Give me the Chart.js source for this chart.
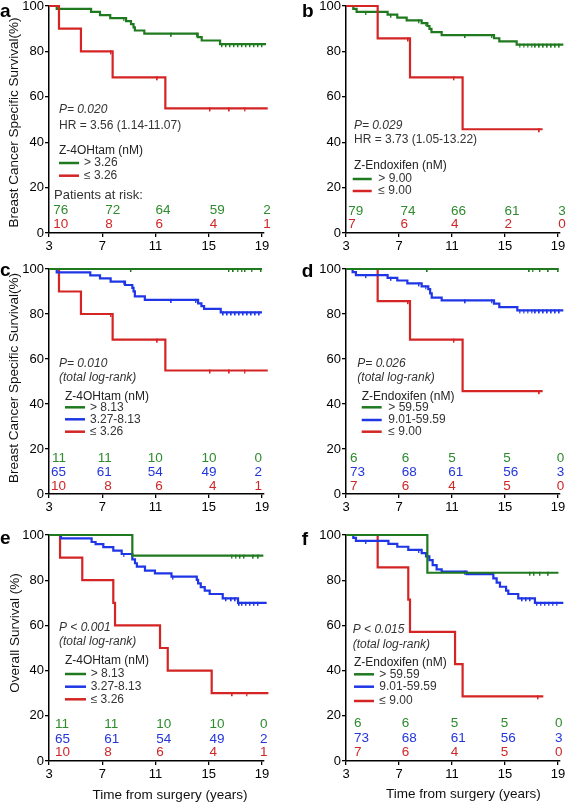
<!DOCTYPE html>
<html><head><meta charset="utf-8">
<script src="https://cdn.jsdelivr.net/npm/chart.js@4.4.0/dist/chart.umd.min.js"></script>
<style>
html,body{margin:0;padding:0;background:#fff;width:567px;height:802px;overflow:hidden;position:relative;}
canvas{position:absolute;}
</style></head><body>
<canvas id="pa" width="283" height="258" style="left:0;top:0"></canvas>
<canvas id="pb" width="284" height="258" style="left:283px;top:0"></canvas>
<canvas id="pc" width="283" height="265" style="left:0;top:255px"></canvas>
<canvas id="pd" width="284" height="265" style="left:283px;top:255px"></canvas>
<canvas id="pe" width="283" height="282" style="left:0;top:520px"></canvas>
<canvas id="pf" width="284" height="282" style="left:283px;top:520px"></canvas>
<script>
// ---------- DATA ----------
const xTicks = [3, 7, 11, 15, 19];
const yTicks = [0, 20, 40, 60, 80, 100];

// Panel a: Z-4OHtam > 3.26 (BCSS)
const aHighT = [3, 3.58, 6.16, 6.83, 7.6, 8.79, 9.16, 9.35, 9.45, 10.16, 14.17, 14.47, 15.85, 19.3];
const aHighS = [100, 98.7, 97.4, 96.0, 94.7, 93.3, 92.0, 90.6, 89.2, 87.8, 86.3, 84.8, 83.2, 83.2];
const aHighC = [8.6, 12.2, 14.1, 16.0, 16.3, 16.6, 16.9, 17.2, 17.5, 17.8, 18.1, 18.4, 18.7, 19.0];
// Z-4OHtam <= 3.26 (BCSS, panels a and c)
const tamLowT = [3, 3.75, 5.4, 7.78, 11.74, 19.43];
const tamLowS = [100, 90, 80, 68.6, 54.9, 54.9];
const tamLowC = [7.65, 11.15, 15.1, 16.55, 17.7];

// Panel b: Z-Endoxifen > 9.00 (BCSS)
const bHighT = [3, 3.55, 3.8, 6.14, 6.87, 7.58, 8.71, 9.14, 9.3, 9.45, 10.22, 14.17, 14.57, 15.88, 19.4];
const bHighS = [100, 98.7, 97.4, 96.2, 94.9, 93.7, 92.5, 91.2, 89.9, 88.5, 87.2, 85.8, 84.4, 83.0, 83.0];
const bHighC = [4.5, 6.4, 8.5, 9.0, 12.0, 14.0, 16.1, 16.4, 16.7, 17.0, 17.3, 17.6, 17.9, 18.2, 18.5, 18.8, 19.1];
// Z-Endoxifen <= 9.00 (BCSS, panels b and d)
const endLowT = [3, 5.39, 7.83, 11.8, 17.84];
const endLowS = [100, 85.7, 68.6, 45.7, 45.7];
const endLowC = [7.7, 11.15, 17.6];

// Panel c: Z-4OHtam three groups (BCSS)
const cHighT = [3, 19.0];
const cHighS = [100, 100];
const cHighC = [9.16, 16.52, 16.85, 17.17, 17.48, 17.73, 18.23, 18.93];
const cMidT = [3, 3.58, 6.1, 6.83, 7.63, 8.71, 9.26, 9.35, 9.45, 10.2, 14.2, 14.45, 14.65, 15.9, 19.0];
const cMidS = [100, 98.5, 97.2, 95.8, 94.4, 92.9, 91.6, 90.1, 87.8, 86.3, 84.7, 83.5, 82.3, 80.7, 80.7];
const cMidC = [8.6, 12.2, 14.05, 16.1, 16.4, 16.7, 17.0, 17.3, 17.6, 17.9, 18.2, 18.5, 18.8];

// Panel d: Z-Endoxifen three groups (BCSS)
const dHighT = [3, 19.03];
const dHighS = [100, 100];
const dHighC = [9.14, 16.84, 17.09, 17.64, 18.27, 19.03];
const dMidT = [3, 3.5, 3.75, 6.14, 6.87, 7.63, 8.71, 9.21, 9.35, 9.47, 10.22, 14.17, 14.57, 15.93, 19.4];
const dMidS = [100, 98.6, 97.3, 96.1, 94.9, 93.6, 92.3, 91.1, 89.2, 87.3, 86.1, 84.6, 83.1, 81.6, 81.6];
const dMidC = [4.5, 6.4, 8.5, 9.0, 12.0, 14.0, 16.1, 16.4, 16.7, 17.0, 17.3, 17.6, 17.9, 18.2, 18.5, 18.8, 19.1];

// Panel e: Z-4OHtam three groups (OS)
const eHighT = [3, 9.26, 19.1];
const eHighS = [100, 90.9, 90.9];
const eHighC = [16.73, 17.03, 17.35, 17.65, 18.35, 18.73];
const eMidT = [3, 3.9, 6.2, 6.5, 7.08, 7.83, 8.46, 9.26, 9.46, 9.6, 10.21, 10.96, 12.2, 14.1, 14.2, 14.4, 14.7, 15.07, 16.05, 17.2, 19.35];
const eMidS = [100, 98.5, 96.9, 96.0, 94.6, 93.1, 91.6, 89.2, 87.5, 86.0, 84.2, 83.0, 81.6, 80.1, 78.6, 76.9, 75.4, 73.9, 72.0, 70.0, 70.0];
const eMidC = [8.6, 12.3, 16.3, 16.7, 17.0, 17.3, 17.5, 17.8, 18.1, 18.4, 18.7];
const eLowT = [3, 3.83, 5.5, 7.83, 7.96, 11.34, 11.92, 15.22, 19.48];
const eLowS = [100, 90, 80, 70, 60, 50, 40, 30, 30];
const eLowC = [16.77, 17.85];

// Panel f: Z-Endoxifen three groups (OS)
const fHighT = [3, 9.14, 19.03];
const fHighS = [100, 83.3, 83.3];
const fHighC = [16.89, 17.19, 17.64, 18.27];
const fMidT = [3, 3.55, 3.75, 6.2, 6.87, 7.7, 8.71, 9.04, 9.29, 9.54, 9.84, 10.22, 12.1, 14.12, 14.37, 14.62, 15.08, 15.25, 16.0, 17.26, 19.4];
const fMidS = [100, 98.7, 97.4, 96.1, 94.8, 93.4, 92.0, 90.5, 88.9, 86.7, 84.8, 83.8, 82.7, 80.8, 78.9, 77.1, 75.4, 73.9, 72.0, 70.0, 70.0];
const fMidC = [4.5, 8.5, 12.0, 16.3, 16.6, 16.9, 17.4, 17.7, 18.0, 18.3, 18.6, 18.9];
const fLowT = [3, 5.39, 7.7, 7.83, 11.23, 11.8, 17.89];
const fLowS = [100, 85.7, 71.4, 57.1, 42.9, 28.6, 28.6];
const fLowC = [17.5];

// Patients at risk
const aRiskHigh = [76, 72, 64, 59, 2];
const aRiskLow = [10, 8, 6, 4, 1];
const bRiskHigh = [79, 74, 66, 61, 3];
const bRiskLow = [7, 6, 4, 2, 0];
const tamRiskHigh = [11, 11, 10, 10, 0];
const tamRiskMid = [65, 61, 54, 49, 2];
const tamRiskLow = [10, 8, 6, 4, 1];
const endRiskHigh = [6, 6, 5, 5, 0];
const endRiskMid = [73, 68, 61, 56, 3];
const endRiskLow = [7, 6, 4, 5, 0];

// ---------- STYLE ----------
const FONT = "'Liberation Sans', Arial, sans-serif";
const GREEN = '#1f7a1f', RED = '#d42424', BLUE = '#1f36e6';
const TGREEN = '#2e8b2e', TRED = '#cf2626', TBLUE = '#2236da';
const ANN = '#333333';

function stepData(T, S) { return T.map((t, i) => ({x: t, y: S[i]})); }
function survAt(T, S, t) { let v = S[0]; for (let i = 0; i < T.length; i++) { if (T[i] <= t) v = S[i]; } return v; }

// censor tick image: short vertical tick hanging below the curve
const tickCache = {};
function censorMark(color) {
  if (tickCache[color]) return tickCache[color];
  const c = document.createElement('canvas');
  c.width = 2; c.height = 8;
  const g = c.getContext('2d');
  g.fillStyle = color;
  g.fillRect(0, 3, 1.4, 4);
  tickCache[color] = c;
  return c;
}

function makePanel(p) {
  const ds = [];
  p.curves.forEach(c => {
    ds.push({type: 'line', data: stepData(c.T, c.S), borderColor: c.color, borderWidth: 2.2,
      stepped: true, pointRadius: 0, fill: false, clip: false, order: c.order});
    ds.push({type: 'scatter', data: c.C.map(t => ({x: t, y: survAt(c.T, c.S, t)})),
      pointStyle: censorMark(c.color), pointRadius: 4, radius: 4,
      showLine: false, clip: false, order: c.order});
  });
  const A = p.area;
  const el = document.getElementById(p.id);
  const ox = parseFloat(el.style.left) || 0, oy = parseFloat(el.style.top) || 0;
  const cw = el.width, ch = el.height;
  const tickFont = {family: FONT, size: 13};
  const textPlugin = {
    id: 'txt',
    afterDraw(chart) {
      const ctx = chart.ctx;
      ctx.save();
      ctx.translate(-ox, -oy);
      ctx.fillStyle = '#000';
      ctx.font = 'bold 19px ' + FONT;
      ctx.textAlign = 'left'; ctx.textBaseline = 'alphabetic';
      ctx.fillText(p.letter[0], p.letter[1], p.letter[2]);
      ctx.textBaseline = 'middle';
      if (p.ytitle) {
        ctx.save();
        ctx.translate(p.ytitle[1], p.ytitle[2]);
        ctx.rotate(-Math.PI / 2);
        ctx.textAlign = 'center';
        ctx.font = '13.5px ' + FONT;
        ctx.fillStyle = '#111';
        ctx.fillText(p.ytitle[0], 0, 0);
        ctx.restore();
      }
      if (p.xtitle) {
        ctx.textAlign = 'center';
        ctx.font = '13.5px ' + FONT;
        ctx.fillStyle = '#111';
        ctx.fillText(p.xtitle[0], p.xtitle[1], p.xtitle[2]);
      }
      ctx.textAlign = 'left';
      p.notes.forEach(n => {
        ctx.font = (n[3] ? 'italic ' : '') + '12px ' + FONT;
        ctx.fillStyle = n[4] || ANN;
        ctx.fillText(n[0], n[1], n[2]);
      });
      const L = p.legend;
      L.items.forEach((it, i) => {
        ctx.strokeStyle = it[1]; ctx.lineWidth = 2.5;
        ctx.beginPath(); ctx.moveTo(L.x1, L.ys[i]); ctx.lineTo(L.x2, L.ys[i]); ctx.stroke();
        ctx.fillStyle = ANN; ctx.font = '12px ' + FONT;
        ctx.fillText(it[0], L.tx, L.ys[i]);
      });
      if (p.riskTitle) {
        ctx.font = '13px ' + FONT; ctx.fillStyle = ANN;
        ctx.fillText(p.riskTitle[0], p.riskTitle[1], p.riskTitle[2]);
      }
      const xs = chart.scales.x;
      ctx.font = '13.5px ' + FONT;
      ctx.textAlign = p.riskAlign;
      p.risk.forEach(r => {
        ctx.fillStyle = r.color;
        r.vals.forEach((v, i) => {
          const px = xs.getPixelForValue(xTicks[i]) + ox + p.riskDx[i];
          ctx.fillText(String(v), px, r.y);
        });
      });
      ctx.restore();
    }
  };
  new Chart(el, {
    type: 'line',
    data: {datasets: ds},
    options: {
      responsive: false, animation: false, devicePixelRatio: 1, events: [],
      layout: {padding: {left: 0, top: A.top - oy, right: (ox + cw) - A.right, bottom: 0}},
      plugins: {legend: {display: false}, tooltip: {enabled: false}},
      scales: {
        x: {
          type: 'linear', min: 3, max: 19.15,
          afterBuildTicks: s => { s.ticks = xTicks.map(v => ({value: v})); },
          ticks: {font: tickFont, color: '#000', padding: 2, maxRotation: 0, autoSkip: false},
          grid: {drawOnChartArea: false, tickLength: 4, color: '#000', lineWidth: 1.3},
          border: {color: '#000', width: 1.5},
          afterFit: s => { s.height = (oy + ch) - A.bottom; s.paddingLeft = 0; s.paddingRight = 0; }
        },
        y: {
          type: 'linear', min: 0, max: 100,
          afterBuildTicks: s => { s.ticks = yTicks.map(v => ({value: v})); },
          ticks: {font: tickFont, color: '#000', padding: 1},
          grid: {drawOnChartArea: false, tickLength: 4, color: '#000', lineWidth: 1.3},
          border: {color: '#000', width: 1.5},
          afterFit: s => { s.width = A.left - ox; s.paddingTop = 0; s.paddingBottom = 0; }
        }
      }
    },
    plugins: [textPlugin]
  });
}

const BCSS = 'Breast Cancer Specific Survival(%)';
const XT = 'Time from surgery (years)';

makePanel({
  id: 'pa', area: {left: 49, right: 264, top: 6, bottom: 233},
  curves: [{T: aHighT, S: aHighS, C: aHighC, color: GREEN, order: 2}, {T: tamLowT, S: tamLowS, C: tamLowC, color: RED, order: 1}],
  letter: ['a', 0, 16.5], ytitle: [BCSS, 14, 122.5],
  notes: [['P= 0.020', 59, 110, true], ['HR = 3.56 (1.14-11.07)', 59, 126], ['Z-4OHtam (nM)', 59, 151, false, '#222']],
  legend: {x1: 59, x2: 79, tx: 84, ys: [163, 175.7], items: [['> 3.26', GREEN], ['\u2264 3.26', RED]]},
  riskTitle: ['Patients at risk:', 54, 195],
  riskAlign: 'left', riskDx: [4.3, 3, 0, 1, 1.3],
  risk: [{vals: aRiskHigh, color: TGREEN, y: 210.7}, {vals: aRiskLow, color: TRED, y: 224}]
});
makePanel({
  id: 'pb', area: {left: 346, right: 560, top: 6, bottom: 233},
  curves: [{T: bHighT, S: bHighS, C: bHighC, color: GREEN, order: 2}, {T: endLowT, S: endLowS, C: endLowC, color: RED, order: 1}],
  letter: ['b', 302, 16.7],
  notes: [['P= 0.029', 354, 126, true], ['HR = 3.73 (1.05-13.22)', 354, 140], ['Z-Endoxifen (nM)', 354, 166, false, '#222']],
  legend: {x1: 352.7, x2: 371.7, tx: 378.3, ys: [179, 191], items: [['> 9.00', GREEN], ['\u2264 9.00', RED]]},
  riskAlign: 'left', riskDx: [2.3, 1.5, -1, -0.5, 0.3],
  risk: [{vals: bRiskHigh, color: TGREEN, y: 211}, {vals: bRiskLow, color: TRED, y: 224}]
});
makePanel({
  id: 'pc', area: {left: 49, right: 264, top: 269, bottom: 494},
  curves: [{T: cHighT, S: cHighS, C: cHighC, color: GREEN, order: 1}, {T: cMidT, S: cMidS, C: cMidC, color: BLUE, order: 2}, {T: tamLowT, S: tamLowS, C: tamLowC, color: RED, order: 3}],
  letter: ['c', 0, 276], ytitle: [BCSS, 14, 378],
  notes: [['P= 0.010', 59, 363.7, true], ['(total log-rank)', 59, 377.3, true], ['Z-4OHtam (nM)', 65, 396.7, false, '#222']],
  legend: {x1: 65, x2: 85, tx: 90, ys: [407.3, 419.3, 431.7], items: [['> 8.13', GREEN], ['3.27-8.13', BLUE], ['\u2264 3.26', RED]]},
  riskAlign: 'right', riskDx: [17, 9.5, 7.3, 7.7, 0],
  risk: [{vals: tamRiskHigh, color: TGREEN, y: 458.3}, {vals: tamRiskMid, color: TBLUE, y: 472.3}, {vals: tamRiskLow, color: TRED, y: 486}]
});
makePanel({
  id: 'pd', area: {left: 346, right: 560, top: 269, bottom: 494},
  curves: [{T: dHighT, S: dHighS, C: dHighC, color: GREEN, order: 1}, {T: dMidT, S: dMidS, C: dMidC, color: BLUE, order: 2}, {T: endLowT, S: endLowS, C: endLowC, color: RED, order: 3}],
  letter: ['d', 301.7, 276.7],
  notes: [['P= 0.026', 357.3, 363.3, true], ['(total log-rank)', 357.3, 377.3, true], ['Z-Endoxifen (nM)', 361.7, 396.7, false, '#222']],
  legend: {x1: 361.7, x2: 381.7, tx: 388.3, ys: [407.3, 420, 431.7], items: [['> 59.59', GREEN], ['9.01-59.59', BLUE], ['\u2264 9.00', RED]]},
  riskAlign: 'left', riskDx: [4, 2.7, -3.7, -1.7, -1.3],
  risk: [{vals: endRiskHigh, color: TGREEN, y: 458.3}, {vals: endRiskMid, color: TBLUE, y: 472.3}, {vals: endRiskLow, color: TRED, y: 486}]
});
makePanel({
  id: 'pe', area: {left: 49, right: 264, top: 535, bottom: 761},
  curves: [{T: eHighT, S: eHighS, C: eHighC, color: GREEN, order: 1}, {T: eMidT, S: eMidS, C: eMidC, color: BLUE, order: 2}, {T: eLowT, S: eLowS, C: eLowC, color: RED, order: 3}],
  letter: ['e', 0, 544], ytitle: ['Overall Survival (%)', 15, 633], xtitle: [XT, 170, 795],
  notes: [['P < 0.001', 59, 627.3, true], ['(total log-rank)', 59, 641.7, true], ['Z-4OHtam (nM)', 65, 661, false, '#222']],
  legend: {x1: 65, x2: 86, tx: 90.7, ys: [674, 686.7, 699.3], items: [['> 8.13', GREEN], ['3.27-8.13', BLUE], ['\u2264 3.26', RED]]},
  riskAlign: 'left', riskDx: [6, 2, 0.7, 0.7, -2],
  risk: [{vals: tamRiskHigh, color: TGREEN, y: 724.3}, {vals: tamRiskMid, color: TBLUE, y: 739}, {vals: tamRiskLow, color: TRED, y: 752.7}]
});
makePanel({
  id: 'pf', area: {left: 346, right: 560, top: 535, bottom: 761},
  curves: [{T: fHighT, S: fHighS, C: fHighC, color: GREEN, order: 1}, {T: fMidT, S: fMidS, C: fMidC, color: BLUE, order: 2}, {T: fLowT, S: fLowS, C: fLowC, color: RED, order: 3}],
  letter: ['f', 301.7, 545], xtitle: [XT, 463.3, 794.3],
  notes: [['P < 0.015', 352.7, 630, true], ['(total log-rank)', 352.7, 645, true], ['Z-Endoxifen (nM)', 354, 662.7, false, '#222']],
  legend: {x1: 354, x2: 374, tx: 379.3, ys: [674.3, 686.7, 701], items: [['> 59.59', GREEN], ['9.01-59.59', BLUE], ['\u2264 9.00', RED]]},
  riskAlign: 'left', riskDx: [8, 2.7, -1.3, -4.3, -3],
  risk: [{vals: endRiskHigh, color: TGREEN, y: 723.3}, {vals: endRiskMid, color: TBLUE, y: 738.3}, {vals: endRiskLow, color: TRED, y: 752.7}]
});
</script>
</body></html>
